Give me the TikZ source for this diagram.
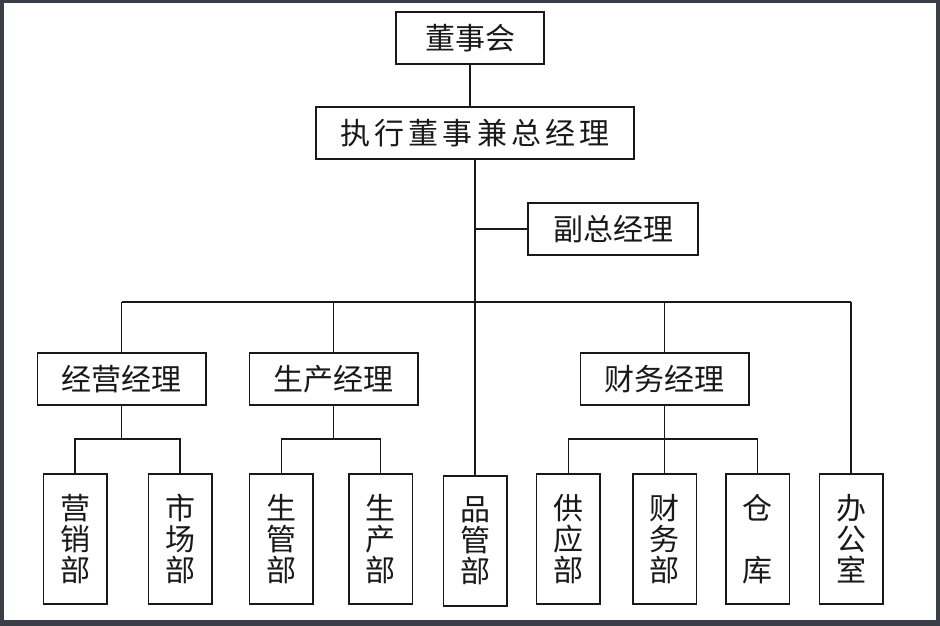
\documentclass[tikz,border=0pt]{standalone}
\usepackage{fontspec}
\setmainfont{Noto Sans CJK SC}
\newfontfamily\cjkwide[LetterSpace=14]{Noto Sans CJK SC}
\definecolor{framegray}{RGB}{58,63,71}
\definecolor{inkgray}{RGB}{25,25,25}
\tikzset{
    box/.style={draw=inkgray, line width=1.5pt, rectangle, inner sep=0pt,
        font=\fontsize{30}{31}\selectfont, text=inkgray},
    headbox/.style={box, minimum height=52pt},
    deptbox/.style={box, minimum width=63.5pt, minimum height=130pt, align=center},
    link/.style={draw=inkgray, line width=1.4pt}
}
\begin{document}
\begin{tikzpicture}[x=1pt, y=-1pt]
    % page with grey frame
    \useasboundingbox (0,0) rectangle (940,626);
    \fill[framegray] (0,0) rectangle (940,626);
    \fill[white] (3.5,3.5) rectangle (936,619.5);

    % top of the chart
    \node[headbox, minimum width=148pt] (board) at (470,38) {董事会};
    \node[headbox, minimum width=318pt] (ceo) at (475,133) {\cjkwide 执行董事兼总经理};
    \node[headbox, minimum width=170pt] (vice) at (613,229) {副总经理};

    % managers
    \node[headbox, minimum width=168.5pt] (sales) at (121.5,379) {经营经理};
    \node[headbox, minimum width=168.5pt] (prod) at (333.7,379) {生产经理};
    \node[headbox, minimum width=168.5pt] (fin) at (664.5,379) {财务经理};

    % departments
    \node[deptbox] (mkt) at (75,539) {营\\销\\部};
    \node[deptbox] (market) at (180,539) {市\\场\\部};
    \node[deptbox] (prodmgmt) at (281.2,539) {生\\管\\部};
    \node[deptbox] (produnit) at (380.5,539) {生\\产\\部};
    \node[deptbox] (qc) at (475,541) {品\\管\\部};
    \node[deptbox] (supply) at (568.3,539) {供\\应\\部};
    \node[deptbox] (account) at (664.5,539) {财\\务\\部};
    \node[deptbox] (store) at (757.5,539) {仓\\\phantom{仓}\\库};
    \node[deptbox] (office) at (851,539) {办\\公\\室};

    \coordinate (bus) at (475,302);
    \coordinate (salesbus) at (121.5,439);
    \coordinate (prodbus) at (333.7,439);
    \coordinate (finbus) at (664.5,439);

    \draw[link] (board.south) -- (board.south |- ceo.north);
    \draw[link] (ceo.south) -- (qc.north);
    \draw[link] (ceo.south |- vice.west) -- (vice.west);

    % main bus
    \draw[link] (sales.north |- bus) -- (office.north |- bus);
    \foreach \n in {sales, prod, fin, office}
        \draw[link] (\n.north |- bus) -- (\n.north);

    % sub buses
    \draw[link] (sales.south) -- (salesbus);
    \draw[link] (mkt.north) |- (salesbus) -| (market.north);
    \draw[link] (prod.south) -- (prodbus);
    \draw[link] (prodmgmt.north) |- (prodbus) -| (produnit.north);
    \draw[link] (fin.south) -- (account.north);
    \draw[link] (supply.north) |- (finbus) -| (store.north);
\end{tikzpicture}
\end{document}
